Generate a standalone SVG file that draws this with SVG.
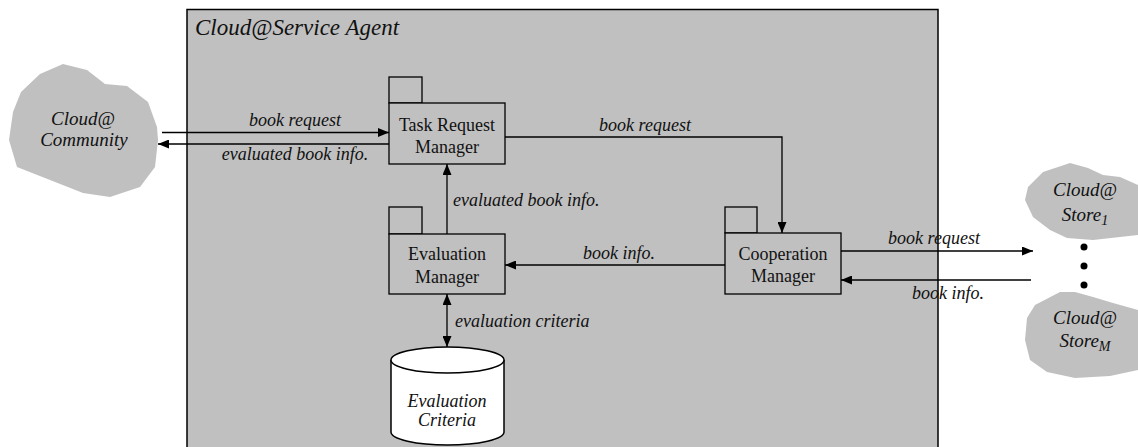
<svg xmlns="http://www.w3.org/2000/svg" width="1138" height="447" viewBox="0 0 1138 447">
<defs>
<marker id="ah" viewBox="0 0 11 9" refX="11" refY="4.5" markerWidth="11" markerHeight="9" markerUnits="userSpaceOnUse" orient="auto-start-reverse">
<path d="M0,0 L11,4.5 L0,9 z" fill="#000"/>
</marker>
<style>
.bg{fill:#fff}
.agent{fill:#c0c0c0;stroke:#000;stroke-width:1.5}
.box{fill:#c0c0c0;stroke:#000;stroke-width:1.3}
.cloud{fill:#c0c0c0;stroke:none}
.db{fill:#fff;stroke:#000;stroke-width:1.5}
.conn{fill:none;stroke:#000;stroke-width:1.3}
.t{font-family:"Liberation Serif","Times New Roman",serif;font-size:18px;fill:#111}
.i{font-style:italic}
.c{text-anchor:middle}
.ct{font-family:"Liberation Serif","Times New Roman",serif;font-size:19px;font-style:italic;fill:#111;text-anchor:middle}
.title{font-family:"Liberation Serif","Times New Roman",serif;font-size:23px;font-style:italic;fill:#111}
</style>
</defs>
<rect class="bg" width="1138" height="447"/>

<g id="agent">
<rect class="agent" x="187" y="9.5" width="751" height="460"/>
<text class="title" x="195" y="35">Cloud@Service Agent</text>
</g>

<g id="community">
<path class="cloud" d="M63,64 L87,70 L105,84 L127,86 L148,102 L157,127 L158,140 L155,167 L140,187 L110,197 L83,193 L50,180 L17,167 L9,140 L13,112 L21,92 L40,74 Z"/>
<text class="ct" x="83" y="125">Cloud@</text>
<text class="ct" x="84" y="146">Community</text>
</g>

<g id="store1">
<path class="cloud" d="M1070,163 L1088,168 L1103,175 L1120,177 L1138,185 L1138,235 L1120,237 L1093,240 L1067,238 L1050,230 L1033,217 L1025,200 L1028,187 L1043,172 Z"/>
<text class="ct" x="1085" y="196">Cloud@</text>
<text class="ct" x="1085" y="221">Store<tspan font-size="14" dy="4">1</tspan></text>
</g>

<g id="dots">
<circle cx="1084" cy="247" r="3.5" fill="#000"/>
<circle cx="1084" cy="266" r="3.5" fill="#000"/>
<circle cx="1084" cy="285" r="3.5" fill="#000"/>
</g>

<g id="storeM">
<path class="cloud" d="M1060,292 L1075,292 L1093,297 L1113,303 L1138,310 L1138,370 L1110,376 L1075,378 L1047,372 L1030,360 L1025,340 L1027,318 L1035,305 Z"/>
<text class="ct" x="1085" y="324">Cloud@</text>
<text class="ct" x="1085" y="347">Store<tspan font-size="14" dy="4">M</tspan></text>
</g>

<g id="trm">
<rect class="box" x="389" y="77" width="33" height="26"/>
<rect class="box" x="389" y="103" width="116" height="61"/>
<text class="t c" x="447" y="131">Task Request</text>
<text class="t c" x="447" y="153">Manager</text>
</g>

<g id="em">
<rect class="box" x="389" y="207" width="33" height="27"/>
<rect class="box" x="389" y="234" width="116" height="60"/>
<text class="t c" x="447" y="260">Evaluation</text>
<text class="t c" x="447" y="283">Manager</text>
</g>

<g id="cm">
<rect class="box" x="725" y="207" width="32" height="26"/>
<rect class="box" x="725" y="233" width="116" height="61"/>
<text class="t c" x="783" y="260">Cooperation</text>
<text class="t c" x="783" y="282">Manager</text>
</g>

<g id="criteria">
<path class="db" d="M391,360 L391,432 A56.5,13 0 0 0 504,432 L504,360"/>
<ellipse class="db" cx="447.5" cy="360" rx="56.5" ry="13"/>
<text class="t i c" x="447" y="407">Evaluation</text>
<text class="t i c" x="447" y="426">Criteria</text>
</g>

<g id="connectors">
<line class="conn" x1="162" y1="132.5" x2="389" y2="132.5" marker-end="url(#ah)"/>
<line class="conn" x1="389" y1="144" x2="158" y2="144" marker-end="url(#ah)"/>
<polyline class="conn" points="505,137 782,137 782,233" marker-end="url(#ah)"/>
<line class="conn" x1="447" y1="234" x2="447" y2="164" marker-end="url(#ah)"/>
<line class="conn" x1="725" y1="265" x2="505" y2="265" marker-end="url(#ah)"/>
<line class="conn" x1="447" y1="294" x2="447" y2="347" marker-start="url(#ah)" marker-end="url(#ah)"/>
<line class="conn" x1="841" y1="251" x2="1033" y2="251" marker-end="url(#ah)"/>
<line class="conn" x1="1031" y1="280" x2="841" y2="280" marker-end="url(#ah)"/>
<text class="t i c" x="295" y="126">book request</text>
<text class="t i c" x="295" y="160">evaluated book info.</text>
<text class="t i c" x="645" y="131">book request</text>
<text class="t i" x="453" y="206">evaluated book info.</text>
<text class="t i c" x="619" y="259">book info.</text>
<text class="t i" x="455" y="327">evaluation criteria</text>
<text class="t i c" x="934" y="244">book request</text>
<text class="t i c" x="948" y="299">book info.</text>
</g>
</svg>
